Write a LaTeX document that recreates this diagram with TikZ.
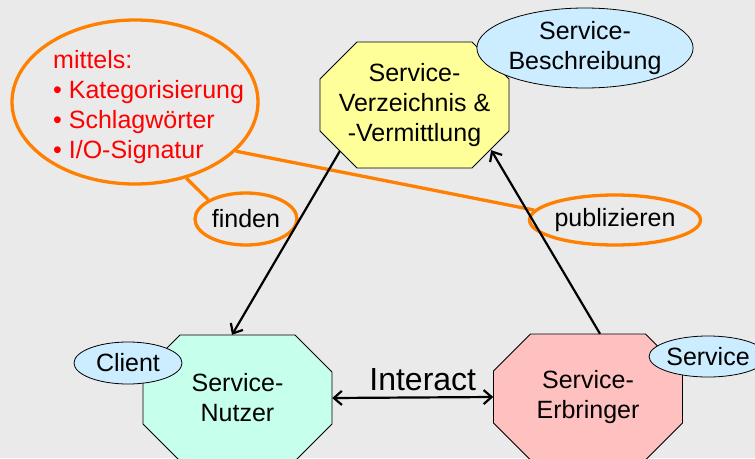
\documentclass[tikz,border=0pt]{standalone}
\usepackage{fontspec}
\setmainfont{Liberation Sans}
\usetikzlibrary{shapes.geometric,arrows.meta,calc}
\definecolor{bgcol}{HTML}{EAEAEA}
\definecolor{verzcol}{HTML}{FFFF99}
\definecolor{nutzcol}{HTML}{C6FFEB}
\definecolor{erbrcol}{HTML}{FFC0C0}
\definecolor{tagcol}{HTML}{CCECFF}
\definecolor{orangecol}{HTML}{FF8000}
\tikzset{
    x=1pt, y=-1pt, % one unit is one pixel of the reference, y runs down
    every node/.style={font=\fontsize{25}{30}\selectfont},
    % octagon round the current point: 189 wide, 126 high, corners cut by 37
    octa/.style={insert path={++(-57.5,-63) -- ++(115,0) -- ++(37,37) -- ++(0,52)
          -- ++(-37,37) -- ++(-115,0) -- ++(-37,-37) -- ++(0,-52) -- cycle}},
    roleline/.style={draw, line width=0.8pt},
    role/.style={rectangle, inner sep=0pt, minimum width=189pt,
        minimum height=126pt, align=center},
    tag/.style={ellipse, draw, line width=0.8pt, fill=tagcol, inner sep=0pt},
    hint/.style={ellipse, draw=orangecol, line width=3.3pt, inner sep=0pt},
    flow/.style={line width=2.2pt, -{Straight Barb[length=8pt,width=14pt]}},
}

\begin{document}
\begin{tikzpicture}
  \useasboundingbox (0,0) rectangle (755,458);
  \clip (0,0) rectangle (755,458);
  \fill[bgcol] (0,0) rectangle (755,458);

  % the three roles
  \path[roleline, fill=verzcol] (414.5,105) [octa];
  \path[roleline, fill=nutzcol] (237.5,398) [octa];
  \path[roleline, fill=erbrcol] (588,397) [octa];
  \node[role] (verz) at (414.5,105) {Service-\\Verzeichnis \&\\-Vermittlung};
  \node[role] (nutzer) at (237.5,398) {Service-\\Nutzer};
  \node[role] (erbr) at (588,397) {Service-\\Erbringer};

  % points on the cut corners
  \coordinate (verzll) at ($(verz.south west)+(20,-17)$);
  \coordinate (verzlr) at ($(verz.south east)+(-18,-18)$);
  \coordinate (nutzertop) at ($(nutzer.north)+(-5.5,0)$);
  \coordinate (erbrtop) at ($(erbr.north)+(12,0)$);

  % blue tags
  \node[tag, minimum width=216pt, minimum height=80pt, align=center]
      (beschr) at (585,48) {Service-\\Beschreibung};
  \node[tag, minimum width=108pt, minimum height=42pt] (client) at (128,363) {Client};
  \node[tag, minimum width=108pt, minimum height=41pt] (service) at (708,356.5) {Service};

  % orange notes
  \node[hint, minimum width=246pt, minimum height=164pt] (mittel) at (135,102) {};
  \node[anchor=base west, text=red, align=left, inner sep=0pt] (mitteltext) at (53,158)
      {mittels:\\\textbullet\ Kategorisierung\\\textbullet\ Schlagwörter\\\textbullet\ I/O-Signatur};
  \node[hint, minimum width=102pt, minimum height=52pt] (finden) at (246,219) {finden};
  \node[hint, minimum width=154pt, minimum height=50pt] (publ) at (615,220) {publizieren};
  \draw[orangecol, line width=3.3pt] (mittel.-56) -- (finden.153);
  \draw[orangecol, line width=3.3pt] (mittel.-26) -- (publ.173);

  % who talks to whom
  \draw[flow] (verzll) -- (nutzertop);
  \draw[flow] (erbrtop) -- (verzlr);
  \draw[flow, {Straight Barb[length=8pt,width=14pt]}-{Straight Barb[length=8pt,width=14pt]}]
    (nutzer.east) -- node[above=6pt, inner sep=0pt, xshift=10pt,
      font=\fontsize{32}{38}\selectfont] (interact) {Interact} (erbr.west);
\end{tikzpicture}
\end{document}
